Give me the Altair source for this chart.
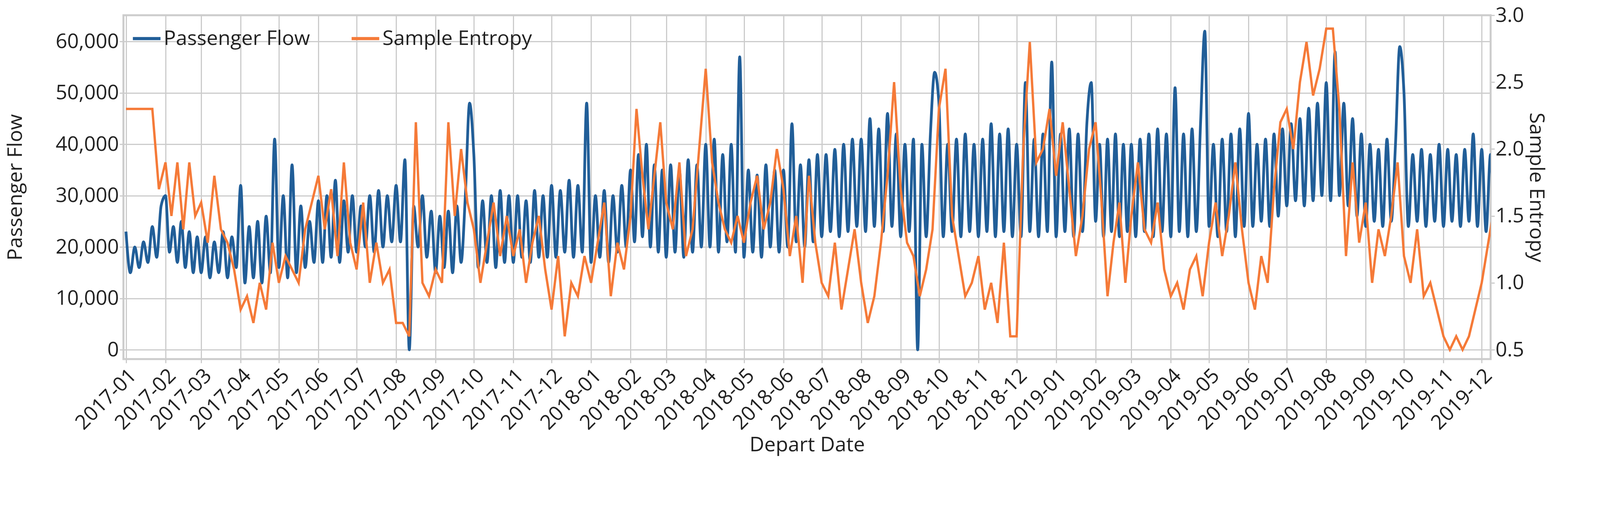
import altair as alt
import numpy as np
import pandas as pd

# passenger flow, alternating trough/peak values per month
pf_2017 = [
    [23000, 15000, 20000, 16000, 21000, 17000, 24000, 18000, 28000],
    [30000, 19000, 24000, 17000, 25000, 16000, 23000, 15000, 22000],
    [15000, 22000, 14000, 21000, 15000, 23000, 14000, 22000, 16000],
    [32000, 13000, 24000, 14000, 25000, 13000, 26000, 15000, 41000],
    [16000, 30000, 14000, 36000, 15000, 28000, 16000, 25000, 17000],
    [29000, 17000, 30000, 18000, 33000, 17000, 29000, 19000, 30000],
    [19000, 28000, 20000, 30000, 19000, 31000, 20000, 30000, 21000],
    [32000, 21000, 37000, 0, 28000, 20000, 30000, 18000, 27000],
    [15000, 26000, 16000, 27000, 15000, 28000, 17000, 30000, 48000],
    [38000, 16000, 29000, 17000, 30000, 16000, 31000, 17000, 30000],
    [17000, 30000, 18000, 29000, 17000, 31000, 18000, 30000, 18000],
    [32000, 18000, 31000, 19000, 33000, 18000, 32000, 19000, 48000],
]
pf_2018 = [
    [17000, 30000, 18000, 31000, 17000, 30000, 19000, 32000, 20000],
    [35000, 21000, 38000, 22000, 40000, 20000, 36000, 19000, 35000],
    [18000, 36000, 19000, 35000, 18000, 37000, 19000, 36000, 20000],
    [40000, 20000, 41000, 19000, 38000, 21000, 40000, 19000, 57000],
    [18000, 35000, 19000, 34000, 18000, 36000, 20000, 35000, 19000],
    [35000, 20000, 44000, 21000, 36000, 20000, 37000, 21000, 38000],
    [22000, 38000, 23000, 39000, 22000, 40000, 23000, 41000, 24000],
    [41000, 23000, 45000, 24000, 43000, 23000, 46000, 24000, 42000],
    [22000, 40000, 23000, 41000, 0, 40000, 22000, 42000, 54000],
    [48000, 22000, 40000, 23000, 41000, 22000, 42000, 23000, 40000],
    [22000, 41000, 23000, 44000, 22000, 42000, 23000, 43000, 22000],
    [40000, 22000, 52000, 23000, 41000, 22000, 42000, 23000, 56000],
]
pf_2019 = [
    [22000, 42000, 23000, 43000, 22000, 42000, 23000, 44000, 52000],
    [25000, 40000, 22000, 41000, 23000, 42000, 22000, 40000, 23000],
    [40000, 22000, 41000, 23000, 42000, 22000, 43000, 23000, 42000],
    [22000, 51000, 23000, 42000, 22000, 43000, 23000, 44000, 62000],
    [24000, 40000, 22000, 41000, 23000, 42000, 22000, 43000, 24000],
    [46000, 24000, 40000, 25000, 41000, 24000, 42000, 26000, 43000],
    [28000, 44000, 29000, 45000, 28000, 47000, 29000, 48000, 30000],
    [52000, 29000, 58000, 30000, 48000, 28000, 45000, 26000, 42000],
    [24000, 40000, 25000, 39000, 24000, 41000, 25000, 40000, 59000],
    [50000, 24000, 38000, 25000, 39000, 24000, 38000, 25000, 40000],
    [24000, 39000, 25000, 38000, 24000, 39000, 25000, 42000, 24000],
    [39000, 23000, 38000, 24000, 39000, 23000, 38000, 24000, 39000],
]

# sample entropy, ~6 values per month
se_2017 = [
    [2.3, 2.3, 2.3, 2.3, 2.3, 1.7], [1.9, 1.5, 1.9, 1.4, 1.9, 1.5],
    [1.6, 1.3, 1.8, 1.4, 1.3, 1.1], [0.8, 0.9, 0.7, 1.0, 0.8, 1.3],
    [1.0, 1.2, 1.1, 1.0, 1.4, 1.6], [1.8, 1.4, 1.7, 1.2, 1.9, 1.3],
    [1.1, 1.6, 1.0, 1.3, 1.0, 1.1], [0.7, 0.7, 0.6, 2.2, 1.0, 0.9],
    [1.1, 1.0, 2.2, 1.5, 2.0, 1.6], [1.4, 1.0, 1.3, 1.6, 1.2, 1.5],
    [1.2, 1.4, 1.0, 1.3, 1.5, 1.1], [0.8, 1.2, 0.6, 1.0, 0.9, 1.2],
]
se_2018 = [
    [1.0, 1.3, 1.6, 0.9, 1.3, 1.1], [1.5, 2.3, 1.8, 1.4, 1.8, 2.2],
    [1.6, 1.4, 1.9, 1.2, 1.4, 2.0], [2.6, 1.9, 1.6, 1.4, 1.3, 1.5],
    [1.3, 1.6, 1.8, 1.4, 1.6, 2.0], [1.7, 1.2, 1.5, 1.0, 1.8, 1.3],
    [1.0, 0.9, 1.3, 0.8, 1.1, 1.4], [1.0, 0.7, 0.9, 1.3, 1.8, 2.5],
    [1.7, 1.3, 1.2, 0.9, 1.1, 1.4], [2.3, 2.6, 1.5, 1.2, 0.9, 1.0],
    [1.2, 0.8, 1.0, 0.7, 1.3, 0.6], [0.6, 2.0, 2.8, 1.9, 2.0, 2.3],
]
se_2019 = [
    [1.8, 2.2, 1.7, 1.2, 1.5, 2.0], [2.2, 1.6, 0.9, 1.3, 1.6, 1.0],
    [1.5, 1.9, 1.4, 1.3, 1.6, 1.1], [0.9, 1.0, 0.8, 1.1, 1.2, 0.9],
    [1.3, 1.6, 1.2, 1.5, 1.9, 1.4], [1.0, 0.8, 1.2, 1.0, 1.7, 2.2],
    [2.3, 2.0, 2.5, 2.8, 2.4, 2.6], [2.9, 2.9, 2.3, 1.2, 1.9, 1.3],
    [1.6, 1.0, 1.4, 1.2, 1.5, 1.9], [1.2, 1.0, 1.4, 0.9, 1.0, 0.8],
    [0.6, 0.5, 0.6, 0.5, 0.6, 0.8], [1.0, 1.3, 1.6, 1.4, 1.3, 1.5],
]

month_starts = pd.date_range("2017-01-01", "2019-12-01", freq="MS")


def spread(months, series):
    rows = []
    for start, vals in zip(months, series):
        days = start.days_in_month
        for i, v in enumerate(vals):
            rows.append((start + pd.Timedelta(days=days * i / len(vals)), v))
    return pd.DataFrame(rows, columns=["date", "value"])


pf = spread(month_starts, pf_2017 + pf_2018 + pf_2019)
pf["series"] = "Passenger Flow"
se = spread(month_starts, se_2017 + se_2018 + se_2019)
se["series"] = "Sample Entropy"

font = "Open Sans"
xdom = [pd.Timestamp("2016-12-30").isoformat(), pd.Timestamp("2019-12-08").isoformat()]
x = alt.X("date:T", title="Depart Date", scale=alt.Scale(domain=xdom),
          axis=alt.Axis(values=[d.isoformat() for d in month_starts], format="%Y-%m",
                        labelAngle=315, labelAlign="right", labelBaseline="top",
                        labelPadding=6, labelOverlap=False, labelBound=False,
                        labelLimit=0))
color = alt.Color("series:N", title=None,
                  scale=alt.Scale(domain=["Passenger Flow", "Sample Entropy"],
                                  range=["#215e98", "#f57a38"]),
                  legend=alt.Legend(orient="top-left", direction="horizontal",
                                    symbolType="stroke", symbolStrokeWidth=8,
                                    symbolSize=5000, labelFontSize=52, labelLimit=0,
                                    columnPadding=90, offset=20, labelFont=font,
                                    labelColor="#222222"))

flow = alt.Chart(pf).mark_line(strokeWidth=7, clip=True, interpolate="monotone").encode(
    x=x,
    y=alt.Y("value:Q", title="Passenger Flow", scale=alt.Scale(domain=[-1800, 65100], nice=False),
            axis=alt.Axis(values=[0, 10000, 20000, 30000, 40000, 50000, 60000], format=",d",
                          titlePadding=75)),
    color=color,
)
entropy = alt.Chart(se).mark_line(strokeWidth=6, clip=True).encode(
    x=x,
    y=alt.Y("value:Q", title="Sample Entropy", scale=alt.Scale(domain=[0.43, 3.0], nice=False),
            axis=alt.Axis(orient="right", values=[0.5, 1.0, 1.5, 2.0, 2.5, 3.0], format=".1f",
                          grid=False, titlePadding=4)),
    color=color,
)

chart = alt.layer(flow, entropy).resolve_scale(y="independent").properties(
    width=3500, height=880,
).configure_axis(
    labelFontSize=52, titleFontSize=52, labelFont=font, titleFont=font,
    labelColor="#222222", titleColor="#222222", titleFontWeight="normal",
    gridColor="#cccccc", gridWidth=3, domain=False, tickColor="#cccccc",
    tickWidth=3, tickSize=10,
).configure_view(stroke="#cccccc", strokeWidth=5)

chart.save("out.html", embed_options={"renderer": "svg", "actions": False})
